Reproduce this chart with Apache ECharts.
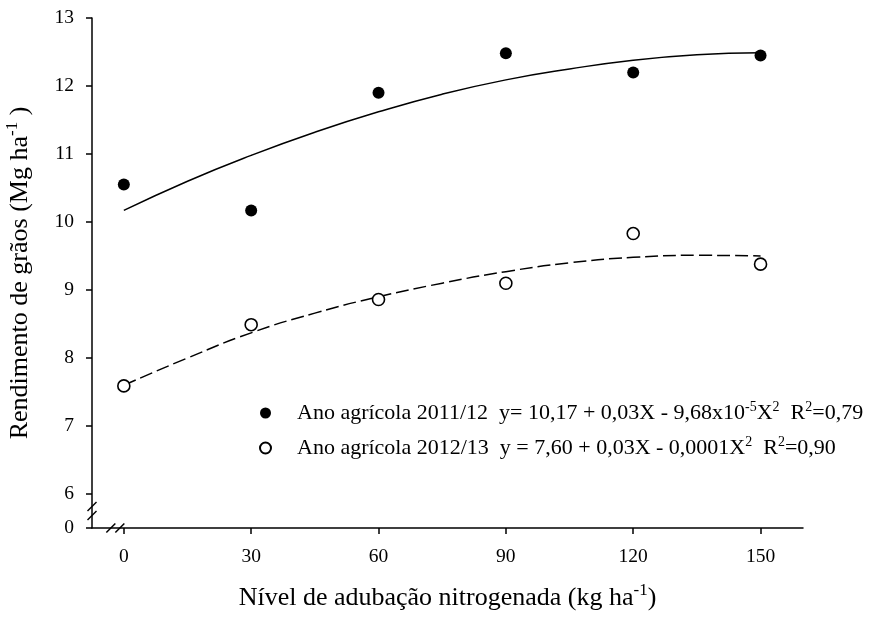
<!DOCTYPE html>
<html>
<head>
<meta charset="utf-8">
<script src="https://cdn.jsdelivr.net/npm/echarts@6/dist/echarts.min.js"></script>
<style>html,body{margin:0;padding:0;background:#fff}#c{width:877px;height:620px}</style>
</head>
<body>
<div id="c"></div>
<script>
// Observed data (kg ha-1 N vs Mg ha-1)
var xLevels = [0, 30, 60, 90, 120, 150];
var yield2011 = [10.55, 10.17, 11.90, 12.48, 12.20, 12.45];
var yield2012 = [7.59, 8.49, 8.86, 9.10, 9.83, 9.38];
// Fitted curves
var fitX = [0, 15, 30, 45, 60, 75, 90, 105, 120, 135, 150];
var fit2011 = [10.17, 10.60, 10.98, 11.32, 11.62, 11.88, 12.09, 12.25, 12.38, 12.46, 12.49];
var fit2012 = [7.60, 8.00, 8.37, 8.66, 8.90, 9.10, 9.27, 9.40, 9.48, 9.51, 9.50];
var xTicks = [0, 30, 60, 90, 120, 150];
var yTicks = [5.5, 6, 7, 8, 9, 10, 11, 12, 13];

var FONT = 'Liberation Serif';
function pairs(xs, ys) { return xs.map(function (x, i) { return [x, ys[i]]; }); }

var chart = echarts.init(document.getElementById('c'), null, {renderer: 'canvas'});
var titleSup = {fontFamily: FONT, fontSize: 17, verticalAlign: 'top', lineHeight: 17, color: '#000'};
var legendSup = {fontFamily: FONT, fontSize: 14, verticalAlign: 'top', lineHeight: 14, color: '#000'};
var option = {
  animation: false,
  backgroundColor: '#fff',
  grid: {left: 92, top: 18, right: 74, bottom: 92, containLabel: false, outerBoundsMode: 'none'},
  xAxis: {
    type: 'value', min: -7.5, max: 160,
    name: 'Nível de adubação nitrogenada (kg ha{sup|-1})',
    nameLocation: 'middle', nameGap: 54,
    nameTextStyle: {fontFamily: FONT, fontSize: 26, color: '#000', lineHeight: 32, rich: {sup: titleSup}},
    axisLine: {lineStyle: {color: '#000', width: 1.5}},
    axisTick: {show: true, inside: false, length: 6, customValues: xTicks, lineStyle: {color: '#000', width: 1.5}},
    axisLabel: {customValues: xTicks, fontFamily: FONT, fontSize: 19.5, color: '#000', margin: 19},
    splitLine: {show: false}
  },
  yAxis: {
    type: 'value', min: 5.5, max: 13,
    name: 'Rendimento de grãos (Mg ha{sup|-1} )',
    nameLocation: 'middle', nameGap: 56, nameRotate: 90,
    nameTextStyle: {fontFamily: FONT, fontSize: 26, color: '#000', lineHeight: 32, rich: {sup: titleSup}},
    axisLine: {onZero: false, lineStyle: {color: '#000', width: 1.5}},
    axisTick: {show: true, inside: false, length: 6, customValues: yTicks, lineStyle: {color: '#000', width: 1.5}},
    axisLabel: {customValues: yTicks, fontFamily: FONT, fontSize: 19.5, color: '#000', margin: 18,
      formatter: function (v) { return v === 5.5 ? '0' : String(v); }},
    splitLine: {show: false}
  },
  legend: {
    orient: 'vertical', left: 254, top: 395, itemWidth: 11, itemHeight: 11, itemGap: 9,
    data: ['2011/12', '2012/13'],
    formatter: function (name) {
      if (name === '2011/12') {
        return '{g| }Ano agrícola 2011/12  y= 10,17 + 0,03X - 9,68x10{sup|-5}X{sup|2}  R{sup|2}=0,79';
      }
      return '{g| }Ano agrícola 2012/13  y = 7,60 + 0,03X - 0,0001X{sup|2}  R{sup|2}=0,90';
    },
    textStyle: {fontFamily: FONT, fontSize: 22, color: '#000', lineHeight: 26,
      rich: {g: {width: 21}, sup: legendSup}}
  },
  series: [
    {name: 'fit2011', type: 'line', data: pairs(fitX, fit2011), smooth: true, showSymbol: false, symbol: 'none',
      lineStyle: {color: '#000', width: 1.5}, z: 2, silent: true},
    {name: 'fit2012', type: 'line', data: pairs(fitX, fit2012), smooth: true, showSymbol: false, symbol: 'none',
      lineStyle: {color: '#000', width: 1.5, type: [13, 5]}, z: 2, silent: true},
    {name: '2011/12', type: 'scatter', data: pairs(xLevels, yield2011), symbol: 'circle', symbolSize: 12,
      itemStyle: {color: '#000', borderColor: '#000', borderWidth: 0, opacity: 1}, z: 3},
    {name: '2012/13', type: 'scatter', data: pairs(xLevels, yield2012), symbol: 'circle', symbolSize: 12,
      itemStyle: {color: '#fff', borderColor: '#000', borderWidth: 1.6, opacity: 1}, z: 3}
  ]
};
chart.setOption(option);

// axis break marks
var yb = chart.convertToPixel({gridIndex: 0}, [-7.5, 5.75]);
var xb = chart.convertToPixel({gridIndex: 0}, [-2, 5.5]);
function slash(cx, cy) {
  return {type: 'line', shape: {x1: cx - 4.5, y1: cy + 4.5, x2: cx + 4.5, y2: cy - 4.5},
    style: {stroke: '#000', lineWidth: 1.5}, z: 100};
}
chart.setOption({graphic: [
  slash(yb[0], yb[1] - 4.5), slash(yb[0], yb[1] + 4.5),
  slash(xb[0] - 4.5, xb[1]), slash(xb[0] + 4.5, xb[1])
]});
</script>
</body>
</html>
